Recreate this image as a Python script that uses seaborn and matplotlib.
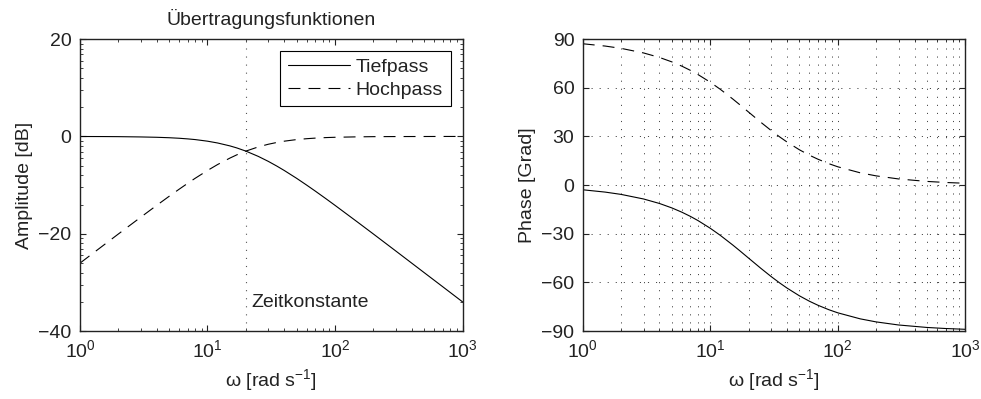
import numpy as np
import pandas as pd
import matplotlib
matplotlib.use("Agg")
import matplotlib.pyplot as plt
from matplotlib.ticker import FixedLocator, LogLocator, NullFormatter
import seaborn as sns

# frequency points (rad/s) and values
omega = [1, 1.5, 2, 3, 4, 5, 6, 7, 8, 10, 12, 15, 17, 20, 25, 30, 35, 40, 50,
         60, 70, 85, 100, 150, 200, 300, 500, 700, 1000]
tief_amp = [-0.01, -0.02, -0.04, -0.10, -0.17, -0.26, -0.37, -0.50, -0.64, -0.97,
            -1.34, -1.94, -2.36, -3.01, -4.09, -5.12, -6.09, -6.99, -8.60,
            -10.00, -11.22, -12.80, -14.15, -17.58, -20.04, -23.54, -27.97,
            -30.88, -33.98]
hoch_amp = [-26.03, -22.52, -20.04, -16.58, -14.15, -12.30, -10.83, -9.62, -8.60,
            -6.99, -5.77, -4.44, -3.77, -3.01, -2.15, -1.60, -1.23, -0.97, -0.64,
            -0.46, -0.34, -0.23, -0.17, -0.08, -0.04, -0.02, -0.01, 0.0, 0.0]
tief_phase = [-2.86, -4.29, -5.71, -8.53, -11.31, -14.04, -16.70, -19.29, -21.80,
              -26.57, -30.96, -36.87, -40.36, -45.00, -51.34, -56.31, -60.26,
              -63.43, -68.20, -71.57, -74.05, -76.76, -78.69, -82.41, -84.29,
              -86.19, -87.71, -88.36, -88.85]
hoch_phase = [87.14, 85.71, 84.29, 81.47, 78.69, 75.96, 73.30, 70.71, 68.20,
              63.43, 59.04, 53.13, 49.64, 45.00, 38.66, 33.69, 29.74, 26.57,
              21.80, 18.43, 15.95, 13.24, 11.31, 7.59, 5.71, 3.81, 2.29, 1.64, 1.15]
zeitkonstante = 20

df = pd.DataFrame({"omega": omega, "tief_amp": tief_amp, "hoch_amp": hoch_amp,
                   "tief_phase": tief_phase, "hoch_phase": hoch_phase})

sns.set_style("ticks")
plt.rcParams["font.family"] = ["Liberation Sans", "DejaVu Sans"]
plt.rcParams["mathtext.fontset"] = "custom"
plt.rcParams["mathtext.rm"] = "Liberation Sans"
plt.rcParams["mathtext.it"] = "Liberation Sans"
plt.rcParams["lines.scale_dashes"] = False
plt.rcParams["font.size"] = 14
TXT = "#222222"
for k in ["text.color", "axes.labelcolor", "xtick.color", "ytick.color"]:
    plt.rcParams[k] = TXT

DASH = (0, (8.6, 5.8))
DOT = (0, (0.8, 5))

fig = plt.figure(figsize=(9.81, 3.99), dpi=100)
ax1 = fig.add_axes([0.0815, 0.170, 0.390, 0.732])
ax2 = fig.add_axes([0.594, 0.170, 0.390, 0.732])

# -------- Amplitude --------
sns.lineplot(data=df, x="omega", y="tief_amp", ax=ax1, color="k", lw=0.8,
             label="Tiefpass")
sns.lineplot(data=df, x="omega", y="hoch_amp", ax=ax1, color="k", lw=0.8,
             linestyle=DASH, label="Hochpass")
ax1.axvline(zeitkonstante, color="#555555", lw=0.8, ls=DOT)
ax1.text(22, -34.2, "Zeitkonstante", va="center", ha="left", fontsize=14)
ax1.set_ylim(-40, 20)
ax1.set_yticks([-40, -20, 0, 20])
minor = [a + 20 * np.log10(k) for a in (-40, -20, 0) for k in range(2, 10)]
ax1.yaxis.set_minor_locator(FixedLocator(minor))
ax1.set_ylabel("Amplitude [dB]")
ax1.set_title("Übertragungsfunktionen", fontsize=14, pad=10)
leg = ax1.legend(loc="upper right", fancybox=False, framealpha=1,
                 edgecolor="k", handlelength=3.2, borderaxespad=0.6,
                 labelspacing=0.25, handletextpad=0.3)
leg.get_frame().set_linewidth(0.8)

# -------- Phase --------
sns.lineplot(data=df, x="omega", y="tief_phase", ax=ax2, color="k", lw=0.8)
sns.lineplot(data=df, x="omega", y="hoch_phase", ax=ax2, color="k", lw=0.8,
             linestyle=DASH)
ax2.set_ylim(-90, 90)
ax2.set_yticks(range(-90, 91, 30))
ax2.set_ylabel("Phase [Grad]")
ax2.grid(which="both", axis="x", color="#444444", lw=0.7, ls=DOT)
ax2.grid(which="major", axis="y", color="#444444", lw=0.7, ls=DOT)

for ax in (ax1, ax2):
    ax.set_xscale("log")
    ax.set_xlim(1, 1000)
    ax.xaxis.set_major_locator(LogLocator(base=10, numticks=10))
    ax.xaxis.set_minor_locator(LogLocator(base=10, subs=np.arange(2, 10), numticks=10))
    ax.xaxis.set_minor_formatter(NullFormatter())
    ax.set_xlabel("ω [rad s$^{-1}$]")
    ax.tick_params(which="both", direction="in", top=True, right=True,
                   labelsize=14, pad=6)
    ax.tick_params(which="major", length=4, width=0.8)
    ax.tick_params(which="minor", length=2.5, width=0.6)
    for s in ax.spines.values():
        s.set_linewidth(1.0)
        s.set_color("#222222")
    ax.set_axisbelow(True)

fig.savefig("out.png", dpi=100)
